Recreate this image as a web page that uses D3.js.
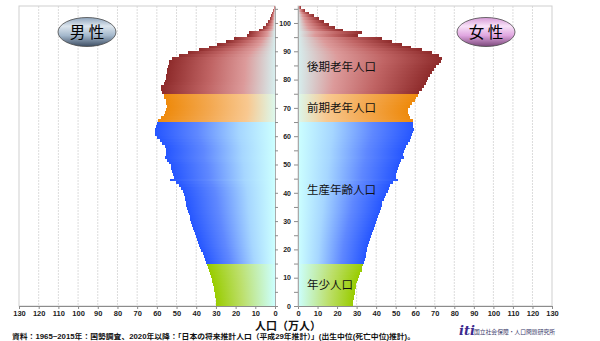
<!DOCTYPE html>
<html><head><meta charset="utf-8">
<script src="https://cdn.jsdelivr.net/npm/d3@7"></script>
<style>body{margin:0;background:#fff}svg{display:block}</style>
</head><body><svg id="c" width="600" height="341"></svg>
<script>
// ---- data (万人), ages 0..105 ----
const ages = d3.range(0, 106);
const male = [
 29.8,30.0,30.2,30.5,30.7,31.0,31.2,31.5,31.8,32.0,
 32.4,32.9,33.3,33.8,34.4,35.0,35.6,36.2,36.8,37.4,
 38.0,38.6,39.1,39.5,40.0,40.5,41.0,41.6,42.0,42.6,
 43.0,43.4,43.9,44.2,44.6,45.0,45.3,45.5,45.8,46.3,
 46.8,47.6,49.0,50.5,53.2,51.5,51.8,52.2,52.6,53.0,
 53.8,55.0,55.8,55.5,55.3,55.5,56.1,57.3,58.6,60.0,
 60.7,60.8,60.8,60.3,60.0,59.2,58.0,56.6,56.0,55.3,
 54.9,55.3,55.6,56.2,56.6,57.5,58.0,57.8,56.6,55.8,
 55.4,55.2,54.9,54.6,54.4,54.0,53.6,52.4,49.0,44.4,
 38.8,33.7,29.2,24.7,20.7,14.2,13.4,8.3,6.1,4.7,
 3.6,2.7,2.2,1.7,1.2,0.7
];
const female = [
 28.2,28.4,28.6,28.8,29.0,29.3,29.5,29.8,30.1,30.6,
 31.1,31.8,32.5,33.0,33.5,34.0,34.4,34.7,35.0,35.3,
 35.5,35.8,36.2,36.7,37.2,37.7,38.2,38.7,39.3,39.8,
 40.4,41.0,41.5,42.0,42.4,42.8,43.2,43.8,44.4,45.2,
 46.0,46.5,47.2,48.6,51.0,50.0,50.3,50.7,51.0,51.7,
 52.2,52.9,54.0,53.7,54.0,54.6,55.5,56.3,57.2,58.0,
 58.6,59.0,59.2,59.0,58.8,58.8,57.5,56.8,56.3,56.5,
 57.1,58.4,59.7,60.5,61.4,62.0,63.5,64.5,65.5,66.0,
 66.5,67.5,68.5,69.5,70.7,72.2,73.3,73.8,72.4,68.7,
 63.3,57.7,53.4,48.3,43.2,30.6,33.0,22.8,19.0,16.0,
 13.4,10.9,8.3,5.8,3.7,1.5
];
const groupNames = ["年少人口", "生産年齢人口", "前期老年人口", "後期老年人口"];
const groupStarts = [0, 15, 65, 75];
const groupLabelAges = [7, 40.5, 69.5, 84];
const xTicks = d3.range(0, 131, 10);
const ageTicks = d3.range(0, 106, 5);
const sexNames = ["男 性", "女 性"];
const axisTitle = "人口（万人）";
const sourceText = "資料：1965~2015年：国勢調査、2020年以降：「日本の将来推計人口（平成29年推計）」(出生中位(死亡中位)推計)。";
const orgName = "国立社会保障・人口問題研究所";

// ---- styling ----
const groupStops = [
  [["0%","#99cc00"],["45%","#bcdf6a"],["100%","#ccffff"]],
  [["0%","#2656ff"],["35%","#5f88ff"],["70%","#a6d6ff"],["100%","#ccffff"]],
  [["0%","#ee8a0c"],["40%","#f3a850"],["75%","#f8c890"],["100%","#dcf8ec"]],
  [["0%","#8e2b2b"],["40%","#c06464"],["72%","#dc9a9a"],["100%","#d6eeee"]]
];
const numFont = "'Liberation Sans', Arial, sans-serif";
const jpFont = "'Noto Sans CJK JP', 'Noto Sans', sans-serif";
const mixFont = "'Liberation Sans', 'Noto Sans CJK JP', sans-serif";

const svg = d3.select("#c");
const y = d3.scaleLinear().domain([0, 106]).range([306, 6]);
const xL = d3.scaleLinear().domain([0, 130]).range([275, 19]);
const xR = d3.scaleLinear().domain([0, 130]).range([298, 552]);
const groupOf = a => d3.bisectRight(groupStarts, a) - 1;

const defs = svg.append("defs");
groupStops.forEach((stops, i) => {
  ["m", "f"].forEach(s => {
    const g = defs.append("linearGradient").attr("id", `g${s}${i}`)
      .attr("x1", "0").attr("x2", "1").attr("y1", "0").attr("y2", "0");
    const st = s === "m" ? stops : stops.map(d => [(100 - parseFloat(d[0])) + "%", d[1]]).reverse();
    st.forEach(d => g.append("stop").attr("offset", d[0]).attr("stop-color", d[1]));
  });
});
const eg = [
  [["0%","#8ea4bc"],["30%","#dde6ee"],["62%","#a4b8cc"],["100%","#3e4e64"]],
  [["0%","#d69ad6"],["30%","#f8e2f8"],["62%","#e0a6e0"],["100%","#7a487a"]]
];
eg.forEach((stops, i) => {
  const g = defs.append("linearGradient").attr("id", `e${i}`)
    .attr("x1", "0").attr("x2", "0").attr("y1", "0").attr("y2", "1");
  stops.forEach(d => g.append("stop").attr("offset", d[0]).attr("stop-color", d[1]));
});

// ---- gridlines & frames ----
[xL, xR].forEach(x => {
  svg.append("g").selectAll("line").data(xTicks.filter(t => t > 0 && t < 130)).join("line")
    .attr("x1", d => x(d)).attr("x2", d => x(d)).attr("y1", y(106)).attr("y2", y(0))
    .attr("stroke", "#dcdcdc").attr("stroke-dasharray", "2,1");
  svg.append("rect")
    .attr("x", Math.min(x(0), x(130))).attr("y", y(106))
    .attr("width", Math.abs(x(130) - x(0))).attr("height", y(0) - y(106))
    .attr("fill", "none").attr("stroke", "#cfcfcf");
});

// ---- bars ----
const yTop = a => Math.round(y(a + 1));
const yBot = a => Math.round(y(a));
svg.append("g").attr("shape-rendering", "crispEdges").selectAll("rect").data(ages).join("rect")
  .attr("x", a => xL(male[a])).attr("width", a => xL(0) - xL(male[a]))
  .attr("y", a => yTop(a)).attr("height", a => yBot(a) - yTop(a))
  .attr("fill", a => `url(#gm${groupOf(a)})`);
svg.append("g").attr("shape-rendering", "crispEdges").selectAll("rect").data(ages).join("rect")
  .attr("x", xR(0)).attr("width", a => xR(female[a]) - xR(0))
  .attr("y", a => yTop(a)).attr("height", a => yBot(a) - yTop(a))
  .attr("fill", a => `url(#gf${groupOf(a)})`);

// ---- axes ----
function styleAxis(g) {
  g.selectAll(".domain").attr("stroke", "#8c8c8c");
  g.selectAll(".tick line").attr("stroke", "#8c8c8c");
  g.selectAll("text").attr("font-family", numFont).attr("font-weight", "bold")
    .attr("font-size", 7.5).attr("fill", "#222");
}
[xL, xR].forEach(x => {
  svg.append("g").attr("transform", `translate(0,${y(0)})`)
    .call(d3.axisBottom(x).tickValues(xTicks).tickSize(3).tickPadding(1.5).tickSizeOuter(0))
    .call(styleAxis);
});
svg.append("g").attr("transform", `translate(${xL(0)},0)`)
  .call(d3.axisRight(y).tickValues(ageTicks).tickSize(3).tickFormat("").tickSizeOuter(0))
  .call(styleAxis).call(g => g.select(".domain").attr("stroke", "#aaa"));
svg.append("g").attr("transform", `translate(${xR(0)},0)`)
  .call(d3.axisLeft(y).tickValues(ageTicks).tickSize(4).tickPadding(3).tickSizeOuter(0)
    .tickFormat(d => d % 10 === 0 && d <= 100 ? d : ""))
  .call(styleAxis).call(g => g.select(".domain").attr("stroke", "#aaa"))
  .call(g => g.selectAll("text").attr("font-size", 7));

// ---- group labels ----
svg.append("g").selectAll("text").data(groupNames).join("text")
  .attr("x", xR(0) + 9).attr("y", (d, i) => y(groupLabelAges[i] + 0.5))
  .attr("dy", "0.36em").attr("font-family", jpFont).attr("font-size", 11.5)
  .attr("fill", "#111").text(d => d);

// ---- sex ellipses ----
const ell = [{cx: 87, cy: 32}, {cx: 486, cy: 32}];
ell.forEach((e, i) => {
  svg.append("ellipse").attr("cx", e.cx).attr("cy", e.cy).attr("rx", 29).attr("ry", 14.5)
    .attr("fill", `url(#e${i})`).attr("stroke", "#4a4a4a").attr("stroke-width", 0.8);
  svg.append("text").attr("x", e.cx).attr("y", e.cy).attr("dy", "0.36em")
    .attr("text-anchor", "middle").attr("font-family", jpFont).attr("font-size", 15.5)
    .attr("fill", "#000").text(sexNames[i]);
});

// ---- titles ----
svg.append("text").attr("x", 255).attr("y", 330).attr("font-family", mixFont)
  .attr("font-size", 11).attr("font-weight", "bold").attr("fill", "#111").text(axisTitle);
svg.append("text").attr("x", 12).attr("y", 339.2).attr("font-family", mixFont)
  .attr("font-size", 7.4).attr("font-weight", "bold").attr("fill", "#111")
  .attr("textLength", 403).attr("lengthAdjust", "spacingAndGlyphs").text(sourceText);
svg.append("text").attr("x", 459).attr("y", 335).attr("font-family", "'DejaVu Serif', serif")
  .attr("font-style", "italic").attr("font-weight", "bold").attr("font-size", 13)
  .attr("fill", "#3b2a8e").text("iti");
svg.append("text").attr("x", 474).attr("y", 333.5).attr("font-family", jpFont)
  .attr("font-size", 6).attr("fill", "#3a3a6a")
  .attr("textLength", 81).attr("lengthAdjust", "spacingAndGlyphs").text(orgName);
</script></body></html>
